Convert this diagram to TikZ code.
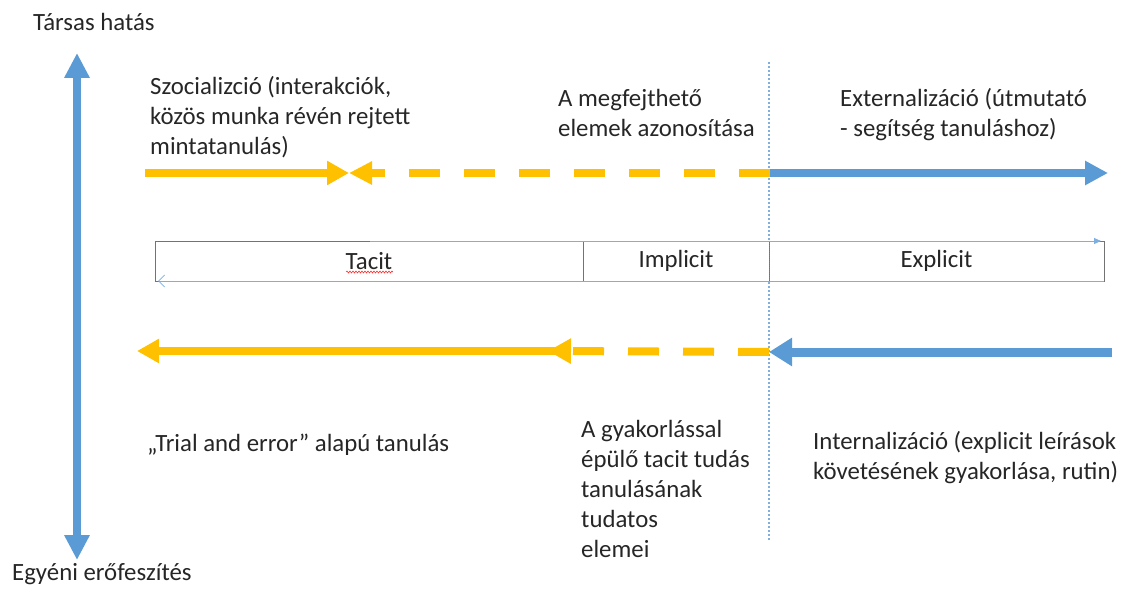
\documentclass[tikz,border=0pt]{standalone}
\usepackage{fontspec}
\setmainfont{Carlito}
\usetikzlibrary{arrows.meta,decorations.pathmorphing}
\definecolor{gold}{HTML}{FFC000}
\definecolor{steel}{HTML}{5B9BD5}
\definecolor{thinblue}{HTML}{7FAEDF}
\begin{document}
\begin{tikzpicture}[x=1pt,y=-1pt,
  txt/.style={font=\fontsize{24.8}{30}\selectfont, inner sep=0pt, align=left, anchor=base west, text=black!85},
  cell/.style={draw=black!55, line width=0.8pt, fill=white, minimum height=40pt, inner sep=0pt, font=\fontsize{24.8}{30}\selectfont, text=black!85},
  yline/.style={gold, line width=8pt},
  bline/.style={steel, line width=8pt},
  yhead/.style={-{Triangle[length=22pt,width=23pt]}},
  dashy/.style={dash pattern=on 31pt off 24pt}
]
\useasboundingbox (0,0) rectangle (1125,591);

% vertical axis
\coordinate (vt) at (77,53);
\coordinate (vb) at (77,560);
\draw[bline, {Triangle[length=25pt,width=24pt]}-{Triangle[length=25pt,width=24pt]}] (vt) -- (vb);
\node[txt] (social) at (33,31) {Társas hatás};
\node[txt] (indiv) at (12,580) {Egyéni erőfeszítés};

% dotted divider
\coordinate (dtop) at (769,62);
\coordinate (dbot) at (769,540);
\draw[thinblue, line width=1.3pt, dash pattern=on 2pt off 2pt] (dtop) -- (dbot);

% box
\node[cell, minimum width=428pt] (tacit) at (369,261) {Tacit};
\node[cell, minimum width=186pt] (implicit) at (676,261) {Implicit};
\node[cell, minimum width=335pt] (explicit) at (936.5,261) {Explicit};
\draw[black!50, line width=1.4pt, dash pattern=on 1pt off 1pt] (implicit.north east) -- (implicit.south east);
\coordinate (tb0) at (370,241);
\coordinate (tb1) at (1101,241);
\draw[thinblue, line width=1pt, -{Triangle[length=7pt,width=6pt]}] (tb0) -- (tb1);
\coordinate (bb0) at (1104,281);
\coordinate (bb1) at (158,281);
\draw[thinblue, line width=1pt, -{Straight Barb[length=6pt,width=12pt,line width=0.8pt]}] (bb0) -- (bb1);
\coordinate (w0) at (346,272);
\coordinate (w1) at (393,272);
\draw[red!80, line width=0.6pt, decorate, decoration={snake, amplitude=1pt, segment length=3pt}] (w0) -- (w1);

% top row
\coordinate (t0) at (145,173);
\coordinate (t1) at (349,173);
\coordinate (t2) at (770,173);
\coordinate (t3) at (1108,173);
\draw[yline, yhead] (t0) -- (t1);
\draw[yline, dashy, -{Triangle[length=23pt,width=22pt]}] (t2) -- (t1);
\draw[bline, -{Triangle[length=23pt,width=23pt]}] (t2) -- (t3);

% bottom row
\coordinate (b0) at (1112,352);
\coordinate (b1) at (769,352);
\coordinate (b2) at (548,351);
\coordinate (b2s) at (571,351);
\coordinate (b3) at (137,351);
\draw[yline, yhead] (b2s) -- (b3);
\draw[yline, dashy, -{Triangle[length=23pt,width=24pt]}] (b1) -- (b2);
\draw[steel, line width=9pt, -{Triangle[length=23pt,width=27pt]}] (b0) -- (b1);

% texts (multi-line nodes: base = last line)
\node[txt] (szoc) at (150,155) {Szocializció (interakciók,\\közös munka révén rejtett\\mintatanulás)};
\node[txt] (megf) at (558,137) {A megfejthető\\elemek azonosítása};
\node[txt] (ext) at (840,137) {Externalizáció (útmutató\\- segítség tanuláshoz)};
\node[txt] (trial) at (147,451) {„Trial and error” alapú tanulás};
\node[txt] (gyak) at (581,557) {A gyakorlással\\épülő tacit tudás\\tanulásának\\tudatos\\elemei};
\node[txt] (intern) at (813,479) {Internalizáció (explicit leírások\\követésének gyakorlása, rutin)};
\end{tikzpicture}
\end{document}
